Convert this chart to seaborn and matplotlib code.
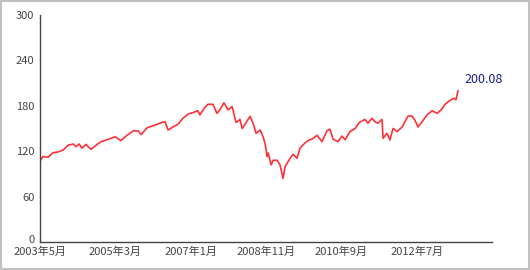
import matplotlib
matplotlib.use("Agg")
import matplotlib.pyplot as plt
import matplotlib.dates as mdates
import seaborn as sns
import pandas as pd
from matplotlib.transforms import ScaledTranslation

dates = ["2003-05-01", "2003-05-27", "2003-07-11", "2003-08-25", "2003-10-09", "2003-11-23",
         "2004-01-06", "2004-02-20", "2004-03-16", "2004-04-13", "2004-05-09", "2004-06-13",
         "2004-07-28", "2004-09-11", "2004-10-25", "2004-12-27", "2005-02-28", "2005-04-20",
         "2005-06-04", "2005-08-06", "2005-09-19", "2005-10-16", "2005-12-08", "2006-02-18",
         "2006-04-19", "2006-05-16", "2006-06-12", "2006-07-25", "2006-09-08", "2006-10-23",
         "2006-12-07", "2007-01-21", "2007-03-04", "2007-03-22", "2007-05-06", "2007-06-02",
         "2007-07-16", "2007-08-21", "2007-09-18", "2007-10-22", "2007-11-28", "2008-01-03",
         "2008-02-07", "2008-03-13", "2008-04-01", "2008-05-15", "2008-06-10", "2008-07-07",
         "2008-08-03", "2008-09-08", "2008-10-04", "2008-10-22", "2008-11-09", "2008-11-18",
         "2008-12-15", "2009-01-01", "2009-02-06", "2009-03-03", "2009-03-31", "2009-04-17",
         "2009-06-01", "2009-06-28", "2009-08-02", "2009-08-28", "2009-10-12", "2009-11-18",
         "2009-12-13", "2010-01-27", "2010-03-12", "2010-04-25", "2010-05-22", "2010-06-18",
         "2010-08-01", "2010-09-06", "2010-10-03", "2010-11-16", "2011-01-01", "2011-02-06",
         "2011-03-28", "2011-04-24", "2011-05-30", "2011-06-25", "2011-07-22", "2011-08-27",
         "2011-09-06", "2011-10-10", "2011-11-06", "2011-12-03", "2012-01-09", "2012-02-22",
         "2012-04-15", "2012-05-19", "2012-06-15", "2012-07-12", "2012-08-18", "2012-10-01",
         "2012-11-15", "2012-12-28", "2013-02-03", "2013-03-10", "2013-04-22", "2013-05-28",
         "2013-06-15", "2013-07-03"]
values = [107, 113, 112, 118, 119, 121.6,
          128, 129.5, 126, 129.5, 124, 129,
          122.5, 128, 132.6, 135.7, 139, 134,
          140, 146.7, 147, 142, 151, 154.6,
          158, 159, 148, 152, 155.5, 163.5,
          169, 171, 173.5, 168, 178, 182,
          182, 170, 175, 184, 174.5, 179,
          158, 162, 150, 160, 166, 157,
          143.6, 148, 139, 130, 113, 117.6,
          102, 108, 108, 102, 84, 99.5,
          110.6, 116, 110.6, 124, 131, 135,
          136, 141, 132.6, 147, 149, 136,
          132.6, 140, 135, 146, 150, 158,
          162, 157, 163.5, 159, 157, 162,
          137, 143.6, 135, 150, 146, 152,
          166.5, 166.5, 161, 152, 159, 168,
          173.5, 170, 174.5, 182, 187, 190,
          188, 200.08]
tick_dates = ["2003-05-01", "2005-03-01", "2007-01-01", "2008-11-01", "2010-09-01",
              "2012-07-01", "2014-05-01"]
tick_labels = ["2003年5月", "2005年3月", "2007年1月", "2008年11月", "2010年9月", "2012年7月", ""]
y_ticks = [0, 60, 120, 180, 240, 300]
last_label = "200.08"

sns.set_style("white")
plt.rcParams['font.family'] = ['Noto Sans CJK JP', 'DejaVu Sans']

df = pd.DataFrame({"date": pd.to_datetime(dates), "value": values})

fig = plt.figure(figsize=(5.3, 2.7), dpi=100)
fig.patch.set_facecolor("white")
ax = fig.add_axes([40 / 530, 1 - 242 / 270, 452 / 530, 227 / 270])

sns.lineplot(data=df, x="date", y="value", ax=ax, color="#ff3038", linewidth=1.2)

ax.set_xlim(pd.Timestamp(tick_dates[0]), pd.Timestamp(tick_dates[-1]))
ax.set_ylim(0, 300)
ax.set_xticks(pd.to_datetime(tick_dates))
ax.set_xticklabels(tick_labels)
ax.set_yticks(y_ticks)
ax.set_yticklabels([str(v) for v in y_ticks])
ax.set_xlabel("")
ax.set_ylabel("")

for side in ["top", "right"]:
    ax.spines[side].set_visible(False)
for side in ["left", "bottom"]:
    ax.spines[side].set_color("#444444")
    ax.spines[side].set_linewidth(1.0)

ax.tick_params(axis="both", direction="in", length=4, width=1, color="#444444",
               labelsize=8, labelcolor="#444444", pad=3)
ax.tick_params(axis="y", pad=4)
ax.grid(False)

# lift the "0" label slightly, as in the reference
zero_lbl = ax.get_yticklabels()[0]
zero_lbl.set_transform(zero_lbl.get_transform() + ScaledTranslation(0, 3 / 100, fig.dpi_scale_trans))

ax.annotate(last_label, xy=(df["date"].iloc[-1], values[-1]), xytext=(5, 8),
            textcoords="offset points", ha="left", va="center",
            fontsize=9, color="#1a1a80")

# outer border
fig.add_artist(plt.Rectangle((0.001, 0.002), 0.997, 0.995, transform=fig.transFigure,
                             fill=False, edgecolor="#c0c0c0", linewidth=1.5))

fig.savefig("out.png", dpi=100)
